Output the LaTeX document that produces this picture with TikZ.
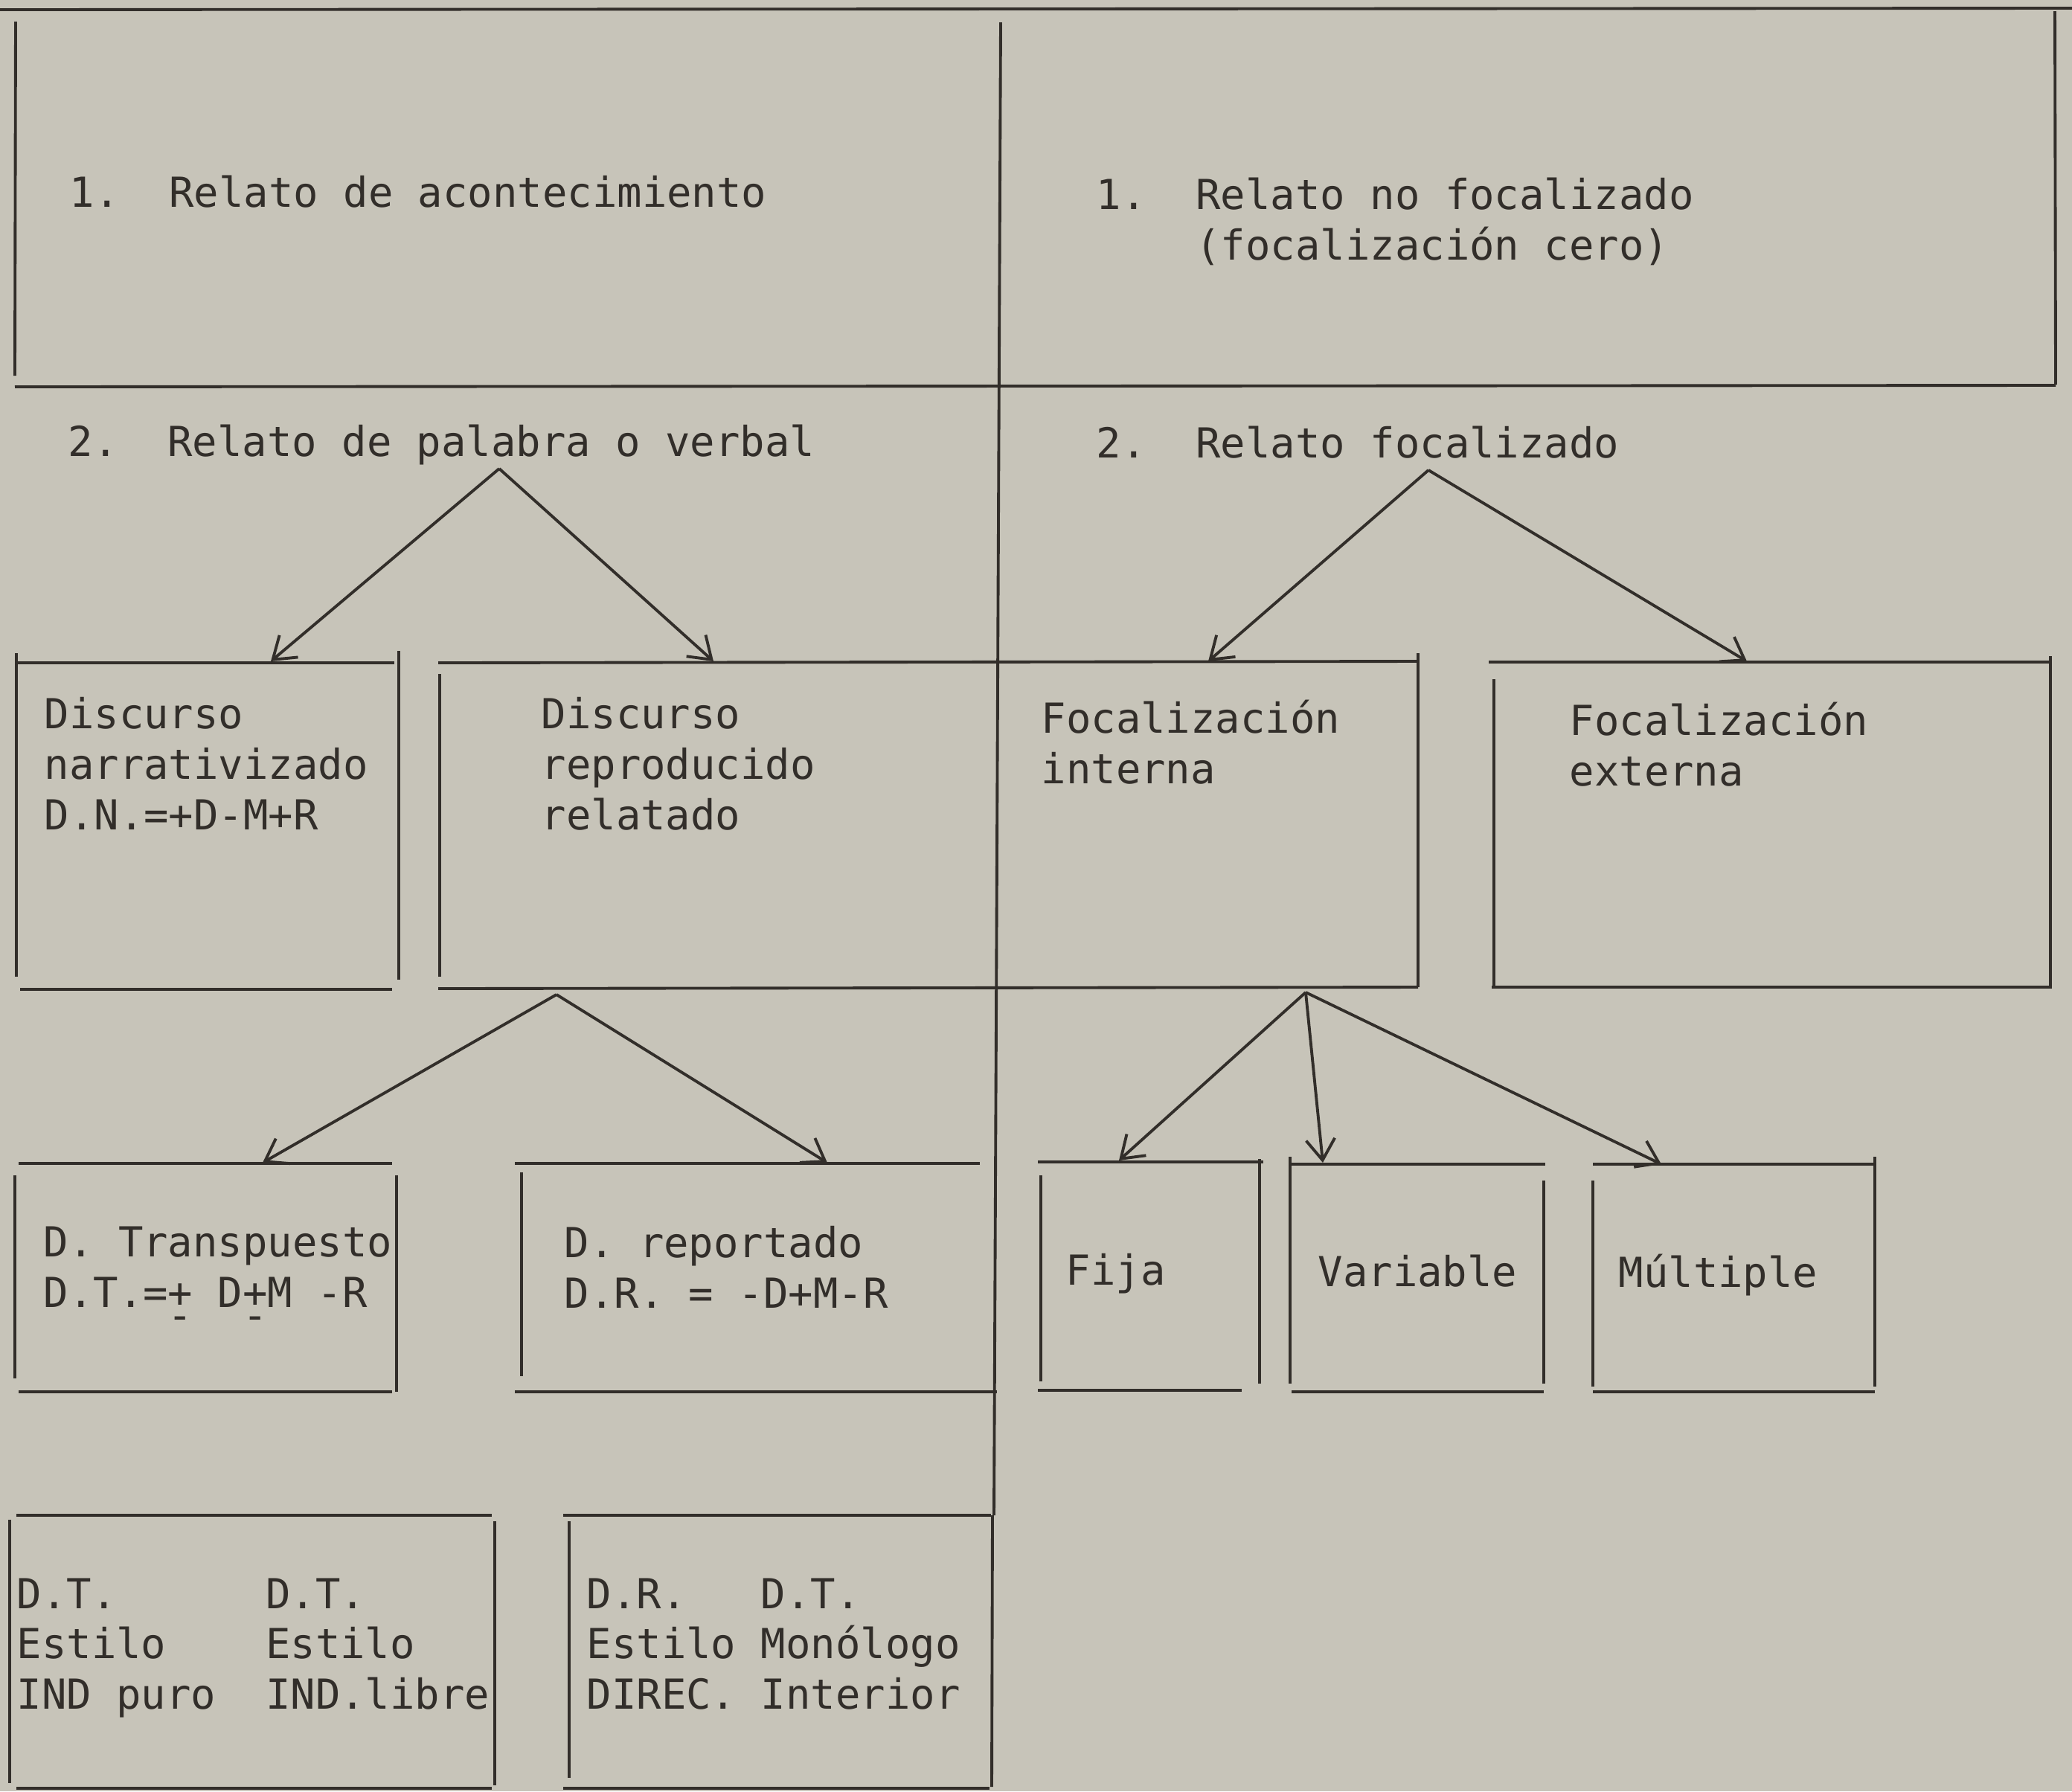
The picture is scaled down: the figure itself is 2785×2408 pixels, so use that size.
\documentclass[tikz,border=0pt]{standalone}
\usepackage{fontspec}
\setmonofont{DejaVu Sans Mono}
\usetikzlibrary{arrows.meta}

\definecolor{paper}{RGB}{199,196,185}
\definecolor{ink}{RGB}{50,46,42}
% plus typed over a low dash
\newcommand{\plmi}{\makebox[0pt][l]{\raisebox{-0.55em}{-}}+}

\begin{document}
\begin{tikzpicture}[x=0.01cm,y=-0.01cm,
    rule/.style={draw=ink,line width=1.1pt},
    arr/.style={draw=ink,line width=1.1pt,-{Straight Barb[length=8pt,width=11pt]}},
    txt/.style={anchor=base west,inner sep=0pt,align=left,text=ink,
        font=\ttfamily\fontsize{15.8}{19.2}\selectfont}]

    \fill[paper] (0,0) rectangle (2785,2408);
    \useasboundingbox (0,0) rectangle (2785,2408);

    % first band
    \draw[rule] (0,13) -- (2785,11);
    \draw[rule] (21,29) -- (20,505);
    \draw[rule] (2762,15) -- (2763,517);
    \draw[rule] (20,520) -- (2763,518);
    \draw[rule] (1345,30) -- (1336,2037);

    % base anchor sits on the last line
    \node[txt] (acont) at (93,278) {1.~~Relato de acontecimiento};
    \node[txt] (nofoc) at (1473,349) {1.~~Relato no focalizado\\~~~~(focalización cero)};
    \node[txt] (verbal) at (91,613) {2.~~Relato de palabra o verbal};
    \node[txt] (foc) at (1473,615) {2.~~Relato focalizado};

    % second band
    \draw[rule] (22,891) -- (530,891);
    \draw[rule] (22,878) -- (22,1313);
    \draw[rule] (536,875) -- (536,1317);
    \draw[rule] (27,1330) -- (527,1330);

    \draw[rule] (589,891) -- (1906,889);
    \draw[rule] (591,906) -- (591,1313);
    \draw[rule] (589,1329) -- (1906,1327);
    \draw[rule] (1906,878) -- (1906,1327);

    \draw[rule] (2001,890) -- (2758,890);
    \draw[rule] (2008,913) -- (2008,1327);
    \draw[rule] (2756,882) -- (2756,1327);
    \draw[rule] (2005,1327) -- (2758,1327);

    \node[txt] (narr) at (59,1115) {Discurso\\narrativizado\\D.N.=+D-M+R};
    \node[txt] (repr) at (727,1115) {Discurso\\reproducido\\relatado};
    \node[txt] (fint) at (1399,1053) {Focalización\\interna};
    \node[txt] (fext) at (2109,1056) {Focalización\\externa};

    % third band
    \draw[rule] (25,1564) -- (527,1564);
    \draw[rule] (20,1580) -- (20,1853);
    \draw[rule] (533,1580) -- (533,1871);
    \draw[rule] (25,1871) -- (527,1871);

    \draw[rule] (692,1564) -- (1317,1564);
    \draw[rule] (701,1576) -- (701,1850);
    \draw[rule] (692,1871) -- (1340,1871);

    \draw[rule] (1395,1562) -- (1698,1562);
    \draw[rule] (1399,1580) -- (1399,1857);
    \draw[rule] (1693,1558) -- (1693,1860);
    \draw[rule] (1395,1869) -- (1669,1869);

    \draw[rule] (1734,1565) -- (2077,1565);
    \draw[rule] (1734,1555) -- (1734,1860);
    \draw[rule] (2075,1587) -- (2075,1860);
    \draw[rule] (1736,1871) -- (2075,1871);

    \draw[rule] (2141,1565) -- (2520,1565);
    \draw[rule] (2141,1587) -- (2141,1864);
    \draw[rule] (2520,1555) -- (2520,1864);
    \draw[rule] (2141,1871) -- (2520,1871);

    \node[txt] (transp) at (58,1757) {D.~Transpuesto\\D.T.=\plmi{} D\plmi{}M -R};
    \node[txt] (report) at (758,1758) {D.~reportado\\D.R. = -D+M-R};
    \node[txt] (fija) at (1432,1727) {Fija};
    \node[txt] (variab) at (1771,1729) {Variable};
    \node[txt] (multi) at (2175,1730) {Múltiple};

    % last band
    \draw[rule] (22,2037) -- (661,2037);
    \draw[rule] (13,2043) -- (13,2397);
    \draw[rule] (665,2045) -- (665,2400);
    \draw[rule] (22,2404) -- (661,2404);

    \draw[rule] (757,2037) -- (1332,2037);
    \draw[rule] (765,2045) -- (765,2390);
    \draw[rule] (1334,2037) -- (1333,2402);
    \draw[rule] (757,2404) -- (1330,2404);

    \node[txt] (indir) at (22,2297) {D.T.~~~~~~D.T.\\Estilo~~~~Estilo\\IND puro~~IND.libre};
    \node[txt] (direc) at (788,2297) {D.R.~~~D.T.\\Estilo Monólogo\\DIREC. Interior};

    % arrows
    \coordinate (verbtip) at (671,630);
    \coordinate (foctip) at (1920,632);
    \coordinate (reprtip) at (748,1337);
    \coordinate (finttip) at (1755,1334);
    \coordinate (narrin) at (364,889);
    \coordinate (reprin) at (959,889);
    \coordinate (fintin) at (1624,889);
    \coordinate (fextin) at (2348,889);
    \coordinate (transpin) at (353,1563);
    \coordinate (reportin) at (1112,1563);
    \coordinate (fijain) at (1504,1560);
    \coordinate (variabin) at (1778,1563);
    \coordinate (multiin) at (2233,1565);

    \draw[arr] (verbtip) -- (narrin);
    \draw[arr] (verbtip) -- (reprin);
    \draw[arr] (foctip) -- (fintin);
    \draw[arr] (foctip) -- (fextin);
    \draw[arr] (reprtip) -- (transpin);
    \draw[arr] (reprtip) -- (reportin);
    \draw[arr] (finttip) -- (fijain);
    \draw[arr] (finttip) -- (variabin);
    \draw[arr] (finttip) -- (multiin);

\end{tikzpicture}
\end{document}
